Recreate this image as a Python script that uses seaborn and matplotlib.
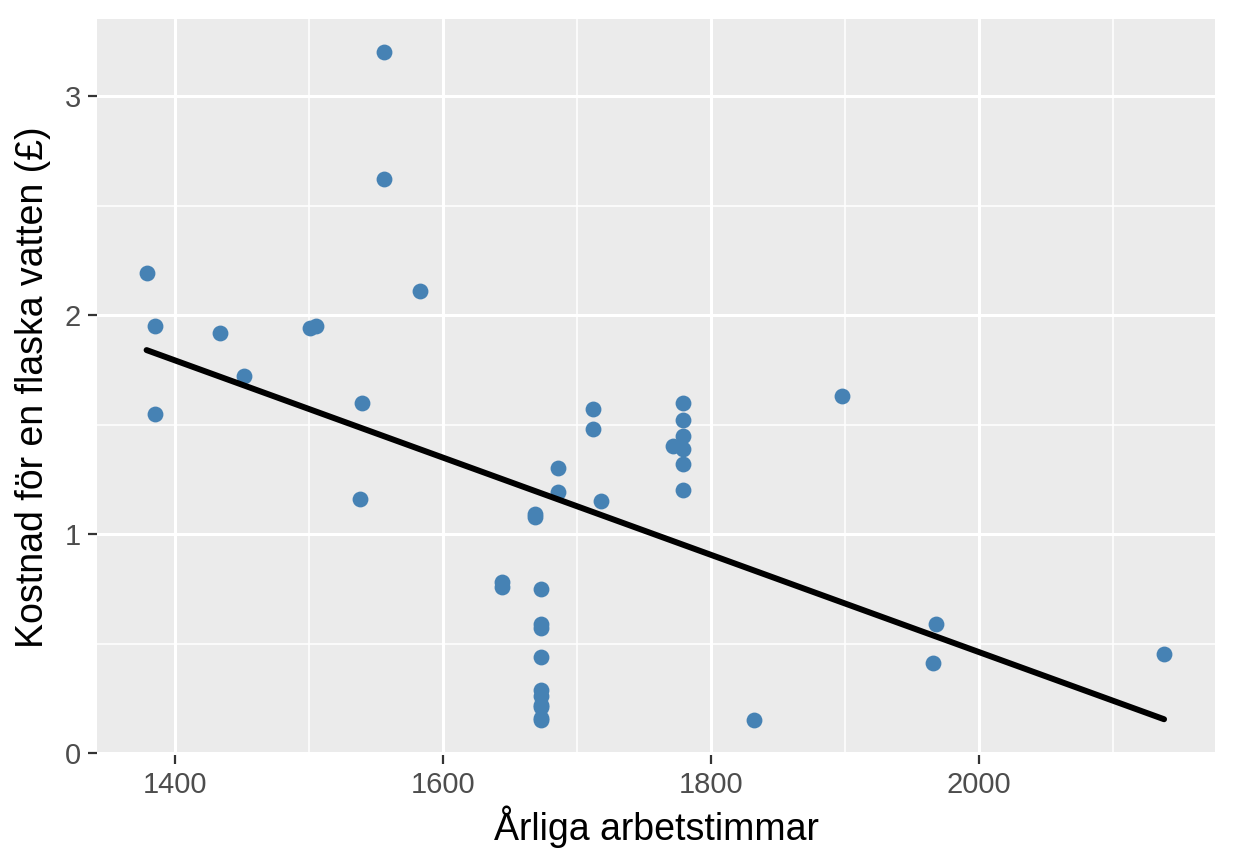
import matplotlib
matplotlib.use("Agg")
import matplotlib.pyplot as plt
from matplotlib.ticker import MultipleLocator
import seaborn as sns
import pandas as pd

hours = [1379, 1385, 1385, 1434, 1452, 1501, 1505, 1538, 1540, 1556, 1556, 1583,
         1644, 1644, 1669, 1669, 1673, 1673, 1673, 1673, 1673, 1673, 1673, 1673, 1673, 1673,
         1686, 1686, 1712, 1712, 1718, 1772, 1779, 1779, 1779, 1779, 1779, 1779,
         1832, 1898, 1966, 1968, 2138]
cost = [2.19, 1.95, 1.55, 1.92, 1.72, 1.94, 1.95, 1.16, 1.60, 3.20, 2.62, 2.11,
        0.78, 0.76, 1.09, 1.08, 0.75, 0.59, 0.57, 0.44, 0.29, 0.26, 0.22, 0.21, 0.16, 0.15,
        1.30, 1.19, 1.57, 1.48, 1.15, 1.40, 1.60, 1.52, 1.45, 1.39, 1.32, 1.20,
        0.15, 1.63, 0.41, 0.59, 0.45]

df = pd.DataFrame({"hours": hours, "cost": cost})

sns.set_theme(style="darkgrid")
plt.rcParams['font.family'] = ['Liberation Sans', 'DejaVu Sans']

W, H = 1234, 864
fig = plt.figure(figsize=(W / 100, H / 100), dpi=100)
left, right, top, bottom = 97, 1215, 19, 755
ax = fig.add_axes([left / W, 1 - bottom / H, (right - left) / W, (bottom - top) / H])
ax.set_facecolor("#EBEBEB")

sns.regplot(data=df, x="hours", y="cost", ax=ax, ci=None,
            scatter_kws=dict(color="#4682B4", s=130, alpha=1, linewidths=0, zorder=3),
            line_kws=dict(color="black", linewidth=4.3, zorder=4))

ax.set_xlim(1342, 2176)
ax.set_ylim(-0.009, 3.352)
ax.xaxis.set_major_locator(MultipleLocator(200))
ax.xaxis.set_minor_locator(MultipleLocator(100))
ax.yaxis.set_major_locator(MultipleLocator(1))
ax.yaxis.set_minor_locator(MultipleLocator(0.5))
ax.grid(which="major", color="white", linewidth=2.2)
ax.grid(which="minor", color="white", linewidth=1.1)
ax.set_axisbelow(True)
for s in ax.spines.values():
    s.set_visible(False)
ax.tick_params(which="major", length=6.5, width=1.6, color="#333333",
               labelsize=21, labelcolor="#4D4D4D", pad=5, direction="out")
ax.tick_params(which="minor", length=0)
ax.tick_params(axis="x", bottom=True)
ax.tick_params(axis="y", left=True)

ax.set_xlabel("Årliga arbetstimmar", fontsize=27, color="black", labelpad=5)
ax.set_ylabel("Kostnad för en flaska vatten (£)", fontsize=27, color="black", labelpad=10)

fig.savefig("out.png", dpi=100, facecolor="white")
